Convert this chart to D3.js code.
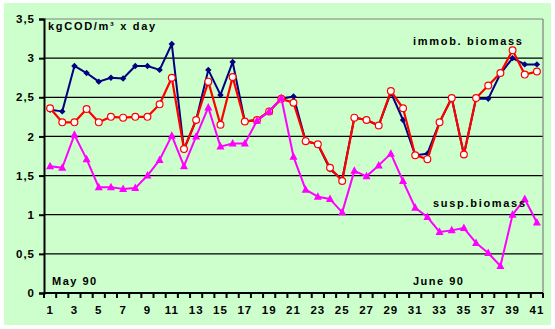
<!DOCTYPE html>
<html><head><meta charset="utf-8">
<script src="https://cdn.jsdelivr.net/npm/d3@7"></script>
<style>
html,body{margin:0;padding:0;background:#fff;}
svg{display:block;}
text{font-family:"Liberation Sans",Arial,sans-serif;font-weight:bold;fill:#000;}
</style></head>
<body>
<svg id="chart" width="555" height="329"></svg>
<script>
const days = d3.range(1, 42);
const totalBiomass = [2.34,2.32,2.90,2.81,2.70,2.75,2.74,2.90,2.90,2.85,3.18,1.83,2.21,2.85,2.53,2.95,2.19,2.21,2.32,2.48,2.51,1.94,1.90,1.58,1.45,2.24,2.21,2.14,2.56,2.21,1.76,1.78,2.18,2.49,1.77,2.48,2.48,2.80,3.00,2.92,2.92];
const immobBiomass = [2.36,2.18,2.18,2.35,2.18,2.25,2.24,2.25,2.25,2.41,2.75,1.84,2.21,2.70,2.15,2.76,2.19,2.21,2.32,2.48,2.43,1.94,1.90,1.60,1.43,2.24,2.21,2.14,2.58,2.36,1.76,1.71,2.18,2.49,1.77,2.49,2.65,2.81,3.10,2.79,2.83];
const suspBiomass = [1.62,1.60,2.02,1.71,1.35,1.35,1.33,1.34,1.50,1.70,2.01,1.62,2.00,2.37,1.87,1.91,1.91,2.20,2.32,2.49,1.74,1.32,1.23,1.20,1.03,1.56,1.49,1.63,1.78,1.43,1.09,0.97,0.78,0.80,0.83,0.64,0.51,0.345,1.00,1.20,0.90];
const yTicks = [0,0.5,1,1.5,2,2.5,3,3.5];
const yTickLabels = ["0","0,5","1","1,5","2","2,5","3","3,5"];
const xTickLabels = days.filter(d => d % 2 === 1);

const svg = d3.select("#chart");
const L = 44, R = 543, T = 19, B = 293;

svg.append("rect").attr("x",4).attr("y",3).attr("width",547).attr("height",322).attr("fill","#CCFFCC");

const x = d3.scaleBand().domain(days).range([L, R]).padding(0);
const y = d3.scaleLinear().domain([0, 3.5]).range([B, T]);
const cx = d => x(d) + x.bandwidth()/2;

// gridlines
svg.append("g").selectAll("line").data(yTicks.filter(v => v > 0 && v < 3.5)).join("line")
  .attr("x1", L).attr("x2", R).attr("y1", d => y(d)).attr("y2", d => y(d))
  .attr("stroke","#000").attr("stroke-width",1.2);

// plot border top/right gray
svg.append("line").attr("x1",L).attr("x2",R).attr("y1",y(3.5)).attr("y2",y(3.5)).attr("stroke","#808080").attr("stroke-width",1.2);
svg.append("line").attr("x1",R).attr("x2",R).attr("y1",y(3.5)).attr("y2",B).attr("stroke","#808080").attr("stroke-width",1.2);

// y axis
const yAxis = d3.axisLeft(y).tickValues(yTicks).tickSize(5).tickPadding(4)
  .tickFormat((d,i) => yTickLabels[i]);
const gy = svg.append("g").attr("transform",`translate(${L},0)`).call(yAxis);
gy.select(".domain").attr("stroke","#000").attr("stroke-width",2);
gy.selectAll(".tick line").attr("stroke","#000").attr("stroke-width",2);
gy.selectAll(".tick text").attr("font-size",11.5).attr("letter-spacing",1).attr("font-family","Liberation Sans, Arial, sans-serif").attr("font-weight","bold");

// x axis
const gx = svg.append("g").attr("transform",`translate(0,${B})`);
gx.append("line").attr("x1",L).attr("x2",R).attr("stroke","#000").attr("stroke-width",2);
const boundaries = days.map(d => x(d)).concat([R]);
gx.selectAll("line.tk").data(boundaries).join("line").attr("class","tk")
  .attr("x1",d=>d).attr("x2",d=>d).attr("y1",0).attr("y2",5).attr("stroke","#000").attr("stroke-width",2);
gx.selectAll("text").data(xTickLabels).join("text")
  .attr("x", d => cx(d)).attr("y", 21).attr("text-anchor","middle")
  .attr("font-size",11.5).attr("letter-spacing",1).text(d => d);

const line = d3.line().x((d,i) => cx(days[i])).y(d => y(d));

function series(data, color, width, marker) {
  const g = svg.append("g");
  g.append("path").datum(data).attr("d", line).attr("fill","none").attr("stroke",color).attr("stroke-width",width).attr("stroke-linejoin","round");
  const pts = g.selectAll("g.m").data(data).join("g").attr("transform",(d,i)=>`translate(${cx(days[i])},${y(d)})`);
  marker(pts);
}

series(totalBiomass, "#000080", 2, s => s.append("path")
  .attr("d", d3.symbol(d3.symbolDiamond2, 26)).attr("fill","#000080"));
series(immobBiomass, "#FF0000", 2.2, s => s.append("circle")
  .attr("r",3.4).attr("fill","#fff").attr("stroke","#FF0000").attr("stroke-width",1.2));
series(suspBiomass, "#FF00FF", 2, s => s.append("path")
  .attr("d", "M0,-4.5L4,3L-4,3Z").attr("fill","#FF00FF"));

// annotations
const ann = [
  ["kgCOD/m³ x day", 48, 29.5, 1.7],
  ["immob. biomass", 413, 45, 1.7],
  ["susp.biomass", 433, 207, 1.7],
  ["May 90", 52, 285, 1.5],
  ["June 90", 413, 285, 1.5]
];
svg.append("g").selectAll("text").data(ann).join("text")
  .attr("x", d => d[1]).attr("y", d => d[2]).attr("font-size",11).attr("letter-spacing", d => d[3]).text(d => d[0]);
</script>
</body></html>
